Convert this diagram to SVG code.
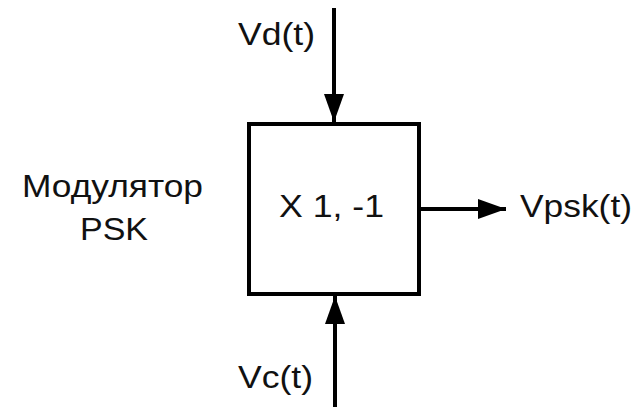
<svg xmlns="http://www.w3.org/2000/svg" width="638" height="407" viewBox="0 0 638 407">
<defs>
<style>
.t{font-family:"Liberation Sans",Arial,sans-serif;font-size:31px;fill:#111}
.ln{stroke:#000;stroke-width:4;fill:none}
</style>
<marker id="ah" viewBox="0 0 28 20" refX="28" refY="10" markerWidth="28" markerHeight="20" markerUnits="userSpaceOnUse" orient="auto">
<path d="M0,0 L28,10 L0,20 Z" fill="#000"/>
</marker>
</defs>
<rect width="638" height="407" fill="#fff"/>
<g id="connectors">
<line class="ln" x1="334" y1="8" x2="334" y2="122" marker-end="url(#ah)"/>
<line class="ln" x1="335" y1="407" x2="335" y2="296" marker-end="url(#ah)"/>
<line class="ln" x1="421" y1="209" x2="506" y2="209" marker-end="url(#ah)"/>
</g>
<g id="modulator">
<rect x="249" y="124" width="170" height="170" class="ln"/>
<text class="t" x="279" y="217" textLength="105" lengthAdjust="spacingAndGlyphs">X 1, -1</text>
</g>
<g id="label">
<text class="t" x="22" y="197" textLength="181" lengthAdjust="spacingAndGlyphs">Модулятор</text>
<text class="t" x="80" y="240" textLength="68" lengthAdjust="spacingAndGlyphs">PSK</text>
</g>
<g id="vd">
<text class="t" x="238" y="45" textLength="77" lengthAdjust="spacingAndGlyphs">Vd(t)</text>
</g>
<g id="vc">
<text class="t" x="238" y="388" textLength="75" lengthAdjust="spacingAndGlyphs">Vc(t)</text>
</g>
<g id="vpsk">
<text class="t" x="520" y="217" textLength="112" lengthAdjust="spacingAndGlyphs">Vpsk(t)</text>
</g>
</svg>
